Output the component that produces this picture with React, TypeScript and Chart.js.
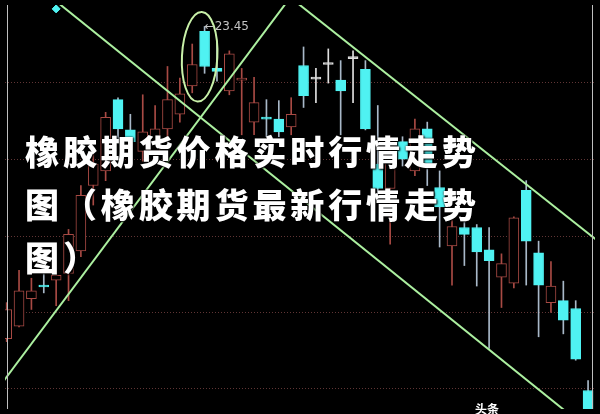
import React, { useEffect, useRef } from "react";
import { Chart, registerables } from "chart.js";
Chart.register(...registerables);

// ---- data ----
const opens = [20.25, 20.38, 20.66, 20.79, 20.85, 20.92, 21.15, 21.82, 21.97, 22.70,
  22.39, 22.17, 22.17, 22.40, 22.55, 22.84, 23.40, 23.02, 22.79, 22.90,
  22.47, 22.51, 22.50, 22.42, 23.05, 22.91, 23.06, 22.90, 23.12, 23.01,
  22.04, 21.79, 22.27, 21.97, 22.40, 21.80, 21.20, 21.39, 21.39, 21.16,
  20.88, 20.82, 21.77, 21.13, 20.62, 20.64, 20.56, 19.72];
const closes = [20.55, 20.74, 20.74, 20.78, 20.90, 21.32, 21.72, 22.04, 22.52, 22.40,
  22.27, 22.37, 22.40, 22.70, 22.76, 23.06, 23.04, 22.99, 23.17, 22.91,
  22.67, 22.50, 22.37, 22.55, 22.74, 22.91, 23.06, 22.79, 23.12, 22.40,
  21.79, 22.17, 22.09, 22.40, 22.04, 21.60, 21.40, 21.32, 21.14, 21.05,
  21.02, 21.49, 21.25, 20.80, 20.79, 20.44, 20.04, 19.37];
const highs = [20.62, 20.95, 20.87, 20.92, 21.05, 21.37, 21.82, 22.17, 22.57, 22.72,
  22.55, 22.75, 22.64, 23.04, 22.92, 23.27, 23.45, 23.30, 23.20, 23.02,
  22.93, 22.70, 22.69, 22.72, 23.24, 23.02, 23.22, 23.10, 23.20, 23.10,
  22.64, 22.32, 22.32, 22.50, 22.47, 21.97, 21.47, 21.47, 21.42, 21.39,
  21.12, 21.50, 21.87, 21.25, 21.04, 20.84, 20.64, 19.82];
const lows = [20.22, 20.37, 20.55, 20.72, 20.59, 20.64, 21.09, 21.62, 21.87, 22.27,
  22.17, 22.07, 22.07, 22.32, 22.47, 22.77, 22.97, 22.89, 22.75, 22.34,
  22.34, 22.32, 22.32, 22.34, 22.62, 22.67, 22.87, 22.34, 22.67, 22.39,
  21.75, 21.22, 22.02, 21.92, 21.82, 21.19, 20.80, 21.00, 20.79, 20.15,
  20.57, 20.77, 20.80, 20.27, 20.52, 20.30, 20.03, 19.30];

const gridPrices = [22.88, 22.09, 21.3, 20.52, 19.74];
const trendLine1 = [{ x: 3, y: 23.81 }, { x: 48, y: 19.22 }];
const trendLine2 = [{ x: -1, y: 19.69 }, { x: 24, y: 23.93 }];
const trendLine3 = [{ x: 23, y: 23.74 }, { x: 48, y: 21.23 }];
const markerPoints = [{ x: 4, y: 23.63 }];
const ellipseCenter = { x: 15.6, y: 23.14 };
const ellipseRadius = { x: 1.43, y: 0.46 };
const titleLines = ["橡胶期货价格实时行情走势", "图（橡胶期货最新行情走势", "图）"];
const watermark = "头条";

const X_MIN = -0.135;
const X_MAX = 47.56;
const Y_MIN = 19.53;
const Y_MAX = 23.67;

const RED = "#a84a44";
const CYAN = "#4ff2f2";
const FLAT = "#e0e0e0";
const WICK_DOWN = "#a8b8c8";
const LINE = "#acf0a0";

const dirOf = (i: number) => (closes[i] > opens[i] ? 1 : closes[i] < opens[i] ? -1 : 0);

const decorPlugin = {
  id: "decor",
  beforeDraw(chart: any) {
    const { ctx } = chart;
    ctx.save();
    ctx.fillStyle = "#000";
    ctx.fillRect(0, 0, chart.width, chart.height);
    ctx.restore();
  },
  afterDatasetsDraw(chart: any) {
    const { ctx, chartArea } = chart;
    const xs = chart.scales.x;
    const ys = chart.scales.y;
    ctx.save();
    const cx = xs.getPixelForValue(ellipseCenter.x);
    const cy = ys.getPixelForValue(ellipseCenter.y);
    const rx = Math.abs(xs.getPixelForValue(ellipseCenter.x + ellipseRadius.x) - cx);
    const ry = Math.abs(ys.getPixelForValue(ellipseCenter.y + ellipseRadius.y) - cy);
    ctx.strokeStyle = "#c8f0a8";
    ctx.lineWidth = 2;
    ctx.beginPath();
    ctx.ellipse(cx, cy, rx, ry, 0.05, 0, Math.PI * 2);
    ctx.stroke();
    let mi = 0;
    highs.forEach((h, i) => { if (h > highs[mi]) mi = i; });
    const hx = xs.getPixelForValue(mi);
    const hy = ys.getPixelForValue(highs[mi]);
    ctx.fillStyle = "#c4c4c4";
    ctx.font = "12px 'DejaVu Sans', sans-serif";
    ctx.textBaseline = "middle";
    ctx.fillText("←" + highs[mi].toFixed(2), hx, hy);
    ctx.strokeStyle = "#bfbfbf";
    ctx.lineWidth = 1;
    ctx.beginPath();
    ctx.moveTo(chartArea.left + 2.5, chartArea.top);
    ctx.lineTo(chartArea.left + 2.5, chartArea.bottom);
    ctx.moveTo(chartArea.right - 2.5, chartArea.top);
    ctx.lineTo(chartArea.right - 2.5, chartArea.bottom);
    ctx.stroke();
    ctx.restore();
  },
};

export default function App() {
  const ref = useRef<HTMLCanvasElement | null>(null);
  useEffect(() => {
    document.body.style.margin = "0";
    document.body.style.background = "#000";
    const idx = opens.map((_, i) => i);
    const lineDs = (data: any) => ({
      type: "line",
      data,
      borderColor: LINE,
      borderWidth: 2,
      pointRadius: 0,
      order: 0,
    });
    const chart = new Chart(ref.current as HTMLCanvasElement, {
      type: "bar",
      data: {
        datasets: [
          lineDs(trendLine1) as any,
          lineDs(trendLine2) as any,
          lineDs(trendLine3) as any,
          {
            type: "scatter",
            data: markerPoints,
            pointStyle: "rectRot",
            pointRadius: 4,
            backgroundColor: CYAN,
            borderColor: CYAN,
            order: 0,
          } as any,
          {
            type: "bar",
            data: idx.map((i) => ({ x: i, y: [Math.min(opens[i], closes[i]), Math.max(opens[i], closes[i])] })),
            backgroundColor: idx.map((i) => (dirOf(i) > 0 ? "#000" : dirOf(i) < 0 ? CYAN : FLAT)),
            borderColor: idx.map((i) => (dirOf(i) > 0 ? RED : dirOf(i) < 0 ? CYAN : FLAT)),
            borderWidth: 1,
            borderSkipped: false,
            barThickness: 10,
            minBarLength: 2,
            grouped: false,
            order: 1,
          } as any,
          {
            type: "bar",
            data: idx.map((i) => ({ x: i, y: [lows[i], highs[i]] })),
            backgroundColor: idx.map((i) => (dirOf(i) > 0 ? RED : dirOf(i) < 0 ? WICK_DOWN : FLAT)),
            borderWidth: 0,
            barThickness: 1,
            grouped: false,
            order: 2,
          } as any,
        ],
      },
      options: {
        responsive: false,
        animation: false,
        maintainAspectRatio: false,
        layout: { padding: 0 },
        plugins: { legend: { display: false }, tooltip: { enabled: false } },
        scales: {
          x: { type: "linear", min: X_MIN, max: X_MAX, display: false, offset: false },
          y: {
            type: "linear",
            min: Y_MIN,
            max: Y_MAX,
            display: true,
            afterBuildTicks: (scale: any) => {
              scale.ticks = gridPrices.map((value) => ({ value }));
            },
            ticks: { display: false },
            grid: { color: "rgba(120,66,66,0.8)", drawTicks: false, lineWidth: 1 },
            border: { display: false, dash: [1, 2] },
          },
        },
      } as any,
      plugins: [decorPlugin],
    });
    return () => chart.destroy();
  }, []);

  return (
    <div style={{ position: "fixed", left: 0, top: 0, width: 600, height: 414, background: "#000", overflow: "hidden" }}>
      <canvas ref={ref} width={600} height={414} style={{ width: 600, height: 414, display: "block" }} />
      <div
        style={{
          position: "absolute",
          left: 25,
          top: 124,
          color: "#fff",
          fontFamily: "'Noto Sans CJK SC', sans-serif",
          fontWeight: 900,
          fontSize: 34,
          lineHeight: "53px",
          letterSpacing: "3.9px",
          whiteSpace: "nowrap",
          textShadow: "0 0 2px #000, 1px 1px 2px #000",
        }}
      >
        {titleLines.map((t, i) => (
          <div key={i}>{t}</div>
        ))}
      </div>
      <div
        style={{
          position: "absolute",
          left: 475,
          top: 402,
          color: "#fff",
          fontFamily: "'Noto Sans CJK SC', sans-serif",
          fontWeight: 700,
          fontSize: 12,
          lineHeight: "14px",
        }}
      >
        {watermark}
      </div>
    </div>
  );
}
